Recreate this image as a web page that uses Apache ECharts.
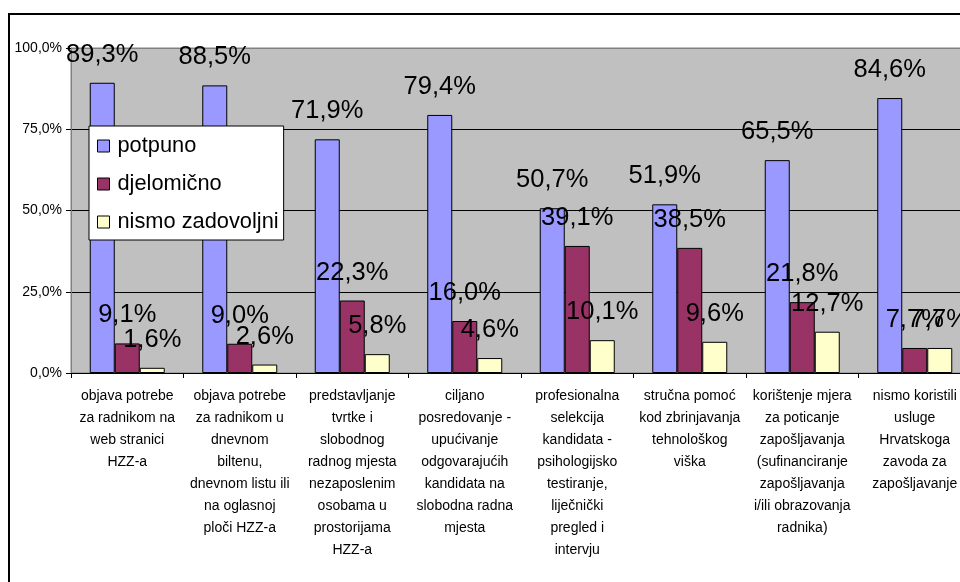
<!DOCTYPE html>
<html>
<head>
<meta charset="utf-8">
<script src="https://cdn.jsdelivr.net/npm/echarts@6/dist/echarts.min.js"></script>
<style>
html,body{margin:0;padding:0;background:#fff;}
#chart{width:960px;height:582px;}
</style>
</head>
<body>
<div id="chart"></div>
<script>
const categories = [
  "objava potrebe\nza radnikom na\nweb stranici\nHZZ-a",
  "objava potrebe\nza radnikom u\ndnevnom\nbiltenu,\ndnevnom listu ili\nna oglasnoj\nploči HZZ-a",
  "predstavljanje\ntvrtke i\nslobodnog\nradnog mjesta\nnezaposlenim\nosobama u\nprostorijama\nHZZ-a",
  "ciljano\nposredovanje -\nupućivanje\nodgovarajućih\nkandidata na\nslobodna radna\nmjesta",
  "profesionalna\nselekcija\nkandidata -\npsihologijsko\ntestiranje,\nliječnički\npregled i\nintervju",
  "stručna pomoć\nkod zbrinjavanja\ntehnološkog\nviška",
  "korištenje mjera\nza poticanje\nzapošljavanja\n(sufinanciranje\nzapošljavanja\ni/ili obrazovanja\nradnika)",
  "nismo koristili\nusluge\nHrvatskoga\nzavoda za\nzapošljavanje"
];
const seriesNames = ["potpuno", "djelomično", "nismo zadovoljni"];
const potpuno = [89.3, 88.5, 71.9, 79.4, 50.7, 51.9, 65.5, 84.6];
const djelomicno = [9.1, 9.0, 22.3, 16.0, 39.1, 38.5, 21.8, 7.7];
const nismoZadovoljni = [1.6, 2.6, 5.8, 4.6, 10.1, 9.6, 12.7, 7.7];
const yTicks = [0, 25, 50, 75, 100];

const colors = ["#9999FF", "#993366", "#FFFFCC"];
const FONT = "'Liberation Sans', Arial, sans-serif";
const fmt = v => v.toFixed(1).replace('.', ',') + '%';

const chart = echarts.init(document.getElementById('chart'), null, {renderer: 'canvas'});
function mkSeries(name, data, color) {
  return {
    name: name,
    type: 'bar',
    data: data,
    barWidth: 25,
    barGap: '0%',
    itemStyle: {color: color, borderColor: '#000', borderWidth: 1},
    label: {
      show: true,
      position: 'top',
      distance: 15,
      formatter: p => fmt(p.value),
      fontFamily: FONT,
      fontSize: 25.5,
      color: '#000'
    },
    animation: false
  };
}
chart.setOption({
  animation: false,
  backgroundColor: '#fff',
  textStyle: {fontFamily: FONT},
  grid: {
    left: 71, top: 48, width: 900, height: 325,
    outerBoundsMode: 'none',
    containLabel: false,
    show: true, backgroundColor: '#C0C0C0', borderColor: '#808080', borderWidth: 1
  },
  legend: {
    orient: 'vertical',
    left: 89, top: 126,
    padding: [8, 5, 6, 8],
    itemGap: 14,
    itemWidth: 12, itemHeight: 12,
    icon: 'rect',
    backgroundColor: '#fff',
    borderColor: '#000',
    borderWidth: 1,
    borderRadius: 0,
    itemStyle: {borderColor: '#000', borderWidth: 1},
    textStyle: {fontFamily: FONT, fontSize: 21.8, lineHeight: 24, color: '#000', padding: [0, 0, 0, 3]},
    data: seriesNames
  },
  xAxis: {
    type: 'category',
    data: categories,
    boundaryGap: true,
    axisLine: {lineStyle: {color: '#000', width: 1}},
    axisTick: {show: true, length: 5, lineStyle: {color: '#000'}},
    axisLabel: {
      interval: 0, margin: 12, hideOverlap: false,
      fontFamily: FONT, fontSize: 14, lineHeight: 22, color: '#000', align: 'center'
    }
  },
  yAxis: {
    type: 'value',
    min: yTicks[0], max: yTicks[yTicks.length - 1], interval: 25,
    axisLine: {show: true, lineStyle: {color: '#808080'}},
    axisTick: {show: true, length: 5, lineStyle: {color: '#000'}},
    axisLabel: {
      margin: 9, fontFamily: FONT, fontSize: 14, color: '#000',
      formatter: v => v.toFixed(1).replace('.', ',') + '%'
    },
    splitLine: {show: true, lineStyle: {color: ['#000', '#000', '#000', '#000', '#808080'], width: 1}}
  },
  series: [
    mkSeries(seriesNames[0], potpuno, colors[0]),
    mkSeries(seriesNames[1], djelomicno, colors[1]),
    mkSeries(seriesNames[2], nismoZadovoljni, colors[2])
  ],
  graphic: [{
    type: 'rect',
    z: 100,
    silent: true,
    shape: {x: 9, y: 14, width: 1000, height: 1000},
    style: {fill: null, stroke: '#000', lineWidth: 2}
  }]
});
</script>
</body>
</html>
